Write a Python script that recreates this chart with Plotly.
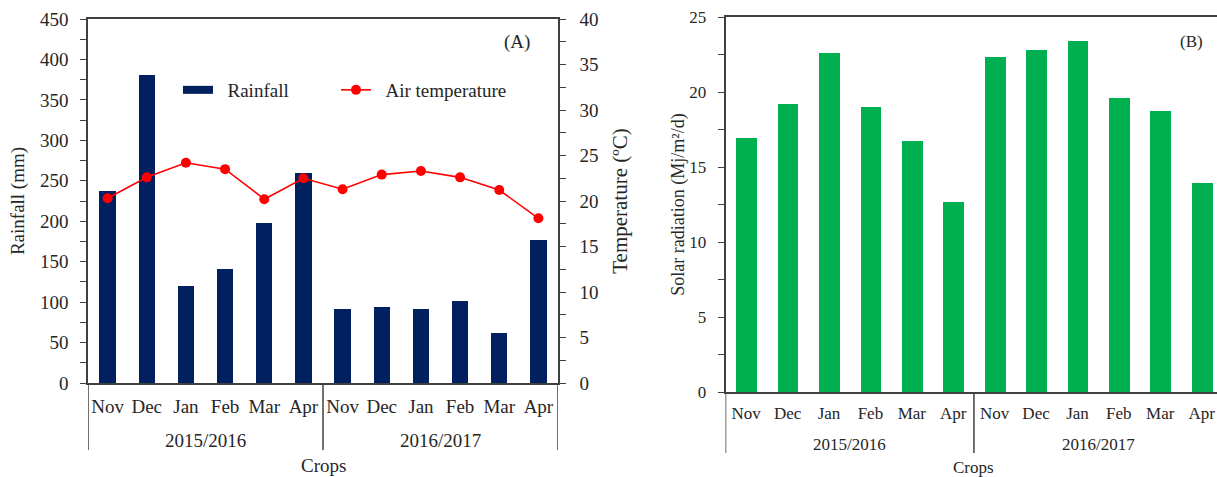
import plotly.graph_objects as go

# ---------------- data ----------------
months = ["Nov", "Dec", "Jan", "Feb", "Mar", "Apr", "Nov", "Dec", "Jan", "Feb", "Mar", "Apr"]
seasons = ["2015/2016"] * 6 + ["2016/2017"] * 6
season_names = ["2015/2016", "2016/2017"]
rainfall = [237, 381, 120, 141, 198, 260, 92, 94, 91, 101, 62, 177]
air_temp = [20.3, 22.6, 24.2, 23.5, 20.2, 22.5, 21.3, 22.9, 23.3, 22.6, 21.2, 18.1]
solar_rad = [16.95, 19.2, 22.6, 19.0, 16.75, 12.7, 22.35, 22.8, 23.4, 19.6, 18.75, 13.95]

W, H = 1217, 477
FONT = "Liberation Serif"
TXT = "#262626"
AX = "#404040"
NAVY = "#002060"
RED = "#FF0000"
GREEN = "#00B050"

xpos = list(range(len(months)))
XMAX_B = 11.37

def py(px):  # pixel y -> paper
    return 1 - px / H

def px_(p):  # pixel x -> paper
    return p / W

fig = go.Figure()

# ---- panel A ----
fig.add_trace(go.Bar(x=xpos, y=rainfall, marker=dict(color=NAVY, line=dict(width=0)),
                     width=0.42, xaxis="x", yaxis="y", showlegend=False, name="Rainfall"))
fig.add_trace(go.Scatter(x=[None], y=[None], mode="lines", line=dict(color=NAVY, width=8),
                         name="\u00a0\u00a0Rainfall", xaxis="x", yaxis="y", legend="legend"))
fig.add_trace(go.Scatter(x=xpos, y=air_temp, mode="lines+markers",
                         line=dict(color=RED, width=1.6), marker=dict(color=RED, size=10),
                         name="\u00a0\u00a0Air temperature", xaxis="x", yaxis="y2", legend="legend2"))

# ---- panel B ----
fig.add_trace(go.Bar(x=xpos, y=solar_rad, marker=dict(color=GREEN, line=dict(width=0)),
                     width=0.5, xaxis="x2", yaxis="y3", showlegend=False, name="Solar radiation"))

FA = 19
FB = 17
tickfont_a = dict(family=FONT, size=FA, color=TXT)
tickfont_b = dict(family=FONT, size=FB, color=TXT)

layout = dict(
    width=W, height=H,
    margin=dict(l=0, r=0, t=0, b=0, autoexpand=False),
    paper_bgcolor="white", plot_bgcolor="white",
    bargap=0,
    font=dict(family=FONT, color=TXT),
    xaxis=dict(domain=[px_(88), px_(558)], range=[-0.5, 11.5], tickvals=xpos, ticktext=months,
               ticks="", showgrid=False, zeroline=False, showline=True, linecolor=AX, linewidth=1.5,
               mirror=True, tickfont=tickfont_a, ticklabelstandoff=5, anchor="y", automargin=False,
               ticklabeloverflow="allow"),
    yaxis=dict(domain=[py(383), py(19)], range=[0, 450], dtick=50, ticks="outside", ticklen=6,
               tickcolor=AX, tickwidth=1.3, showgrid=False, zeroline=False, showline=True,
               linecolor=AX, linewidth=1.5, tickfont=tickfont_a, ticklabelstandoff=8, automargin=False,
               minor=dict(dtick=25, ticks="outside", ticklen=6, tickcolor=AX, tickwidth=1.3),
               title=dict(text="Rainfall (mm)", font=dict(family=FONT, size=FA, color=TXT), standoff=10),
               anchor="x"),
    yaxis2=dict(domain=[py(383), py(19)], range=[0, 40], dtick=5, ticks="outside", ticklen=6,
                tickcolor=AX, tickwidth=1.3, showgrid=False, zeroline=False, showline=True,
                linecolor=AX, linewidth=1.5, tickfont=tickfont_a, side="right", overlaying="y",
                anchor="x", ticklabelstandoff=10, automargin=False,
                minor=dict(dtick=2.5, ticks="outside", ticklen=6, tickcolor=AX, tickwidth=1.3),
                title=dict(text="Temperature (ºC)", font=dict(family=FONT, size=21, color=TXT), standoff=15)),
    xaxis2=dict(domain=[px_(725.5), 1.0], range=[-0.5, XMAX_B], tickvals=xpos, ticktext=months,
                ticks="", showgrid=False, zeroline=False, showline=True, linecolor=AX, linewidth=1.8,
                mirror=True, tickfont=tickfont_b, ticklabelstandoff=5, anchor="y3", automargin=False,
                ticklabeloverflow="allow"),
    yaxis3=dict(domain=[py(392), py(17)], range=[0, 25], dtick=5, ticks="outside", ticklen=6,
                tickcolor=AX, tickwidth=1.3, showgrid=False, zeroline=False, showline=True,
                linecolor=AX, linewidth=1.5, tickfont=tickfont_b, ticklabelstandoff=8, automargin=False,
                minor=dict(dtick=2.5, ticks="outside", ticklen=6, tickcolor=AX, tickwidth=1.3),
                title=dict(text="Solar radiation (Mj/m²/d)", font=dict(family=FONT, size=18, color=TXT), standoff=0),
                anchor="x2"),
    legend=dict(x=px_(178), y=py(90), xanchor="left", yanchor="middle", bgcolor="rgba(0,0,0,0)",
                font=dict(family=FONT, size=FA, color=TXT)),
    legend2=dict(x=px_(336), y=py(90), xanchor="left", yanchor="middle", bgcolor="rgba(0,0,0,0)",
                 font=dict(family=FONT, size=FA, color=TXT)),
)
fig.update_layout(**layout)

shapes = []
annotations = []

def add_groups(xref, ybottom_axis, ydiv_bottom, yyear, ycrops, xmax, fs):
    bounds = [-0.5]
    centers = []
    for s in season_names:
        idx = [i for i, v in enumerate(seasons) if v == s]
        centers.append(sum(idx) / len(idx))
        bounds.append(max(idx) + 0.5)
    for b in bounds:
        if b <= xmax:
            shapes.append(dict(type="line", xref=xref, yref="paper", x0=b, x1=b,
                               y0=py(ybottom_axis), y1=py(ydiv_bottom),
                               line=dict(color=AX, width=1.5)))
    for c, s in zip(centers, season_names):
        annotations.append(dict(text=s, x=c, y=py(yyear), xref=xref, yref="paper",
                                showarrow=False, xanchor="center", yanchor="middle",
                                font=dict(family=FONT, size=fs, color=TXT)))
    mid = bounds[1]
    annotations.append(dict(text="Crops", x=mid, y=py(ycrops), xref=xref, yref="paper",
                            showarrow=False, xanchor="center", yanchor="middle",
                            font=dict(family=FONT, size=fs, color=TXT)))

add_groups("x", 383, 450, 440, 465, 11.5, FA)
add_groups("x2", 392, 453, 444, 467, XMAX_B, FB)

annotations.append(dict(text="(A)", x=px_(517), y=py(42), xref="paper", yref="paper", xanchor="center",
                        showarrow=False, yanchor="middle", font=dict(family=FONT, size=FA, color=TXT)))
annotations.append(dict(text="(B)", x=px_(1191), y=py(41), xref="paper", yref="paper", xanchor="center",
                        showarrow=False, yanchor="middle", font=dict(family=FONT, size=FB, color=TXT)))

fig.update_layout(shapes=shapes, annotations=annotations)
fig.write_html("out.html", config={"displayModeBar": False},
               post_script="document.body.style.margin='0';")
